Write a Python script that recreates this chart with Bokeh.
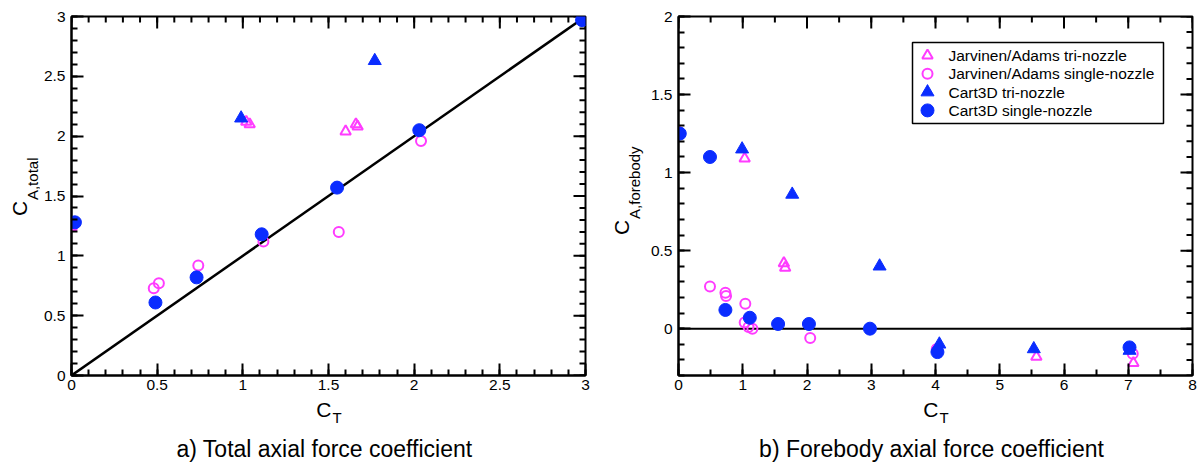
import numpy as np
from bokeh.plotting import figure
from bokeh.layouts import row, column
from bokeh.models import (FixedTicker, CustomJSTickFormatter, Range1d, Span, BoxAnnotation)
from bokeh.core.properties import value
from bokeh.embed import file_html
from bokeh.resources import INLINE

FONT = "Liberation Sans"
MAGENTA = "#ff3cff"
BLUE = "#0a2cff"

# ---- a) total axial force coefficient vs thrust coefficient ----
a_ja_tri_ct = [0.0, 1.02, 1.04, 1.60, 1.66, 1.67]
a_ja_tri_ca = [1.24, 2.12, 2.10, 2.04, 2.10, 2.08]
a_ja_single_ct = [0.0, 0.48, 0.51, 0.74, 1.12, 1.56, 2.04]
a_ja_single_ca = [1.26, 0.73, 0.77, 0.92, 1.12, 1.20, 1.96]
a_c3d_tri_ct = [0.99, 1.77]
a_c3d_tri_ca = [2.15, 2.63]
a_c3d_single_ct = [0.02, 0.49, 0.73, 1.11, 1.55, 2.03, 2.98]
a_c3d_single_ca = [1.28, 0.61, 0.82, 1.18, 1.57, 2.05, 2.97]
identity_line = [0.0, 3.0]

# ---- b) forebody axial force coefficient vs thrust coefficient ----
b_ja_tri_ct = [0.0, 1.03, 1.64, 1.66, 5.57, 7.08]
b_ja_tri_ca = [1.25, 1.09, 0.42, 0.39, -0.18, -0.22]
b_ja_single_ct = [0.0, 0.49, 0.73, 0.74, 1.04, 1.03, 1.09, 1.15, 2.05, 4.02, 7.07]
b_ja_single_ca = [1.26, 0.27, 0.23, 0.21, 0.16, 0.04, 0.01, 0.00, -0.06, -0.13, -0.16]
b_c3d_tri_ct = [0.99, 1.77, 3.13, 4.06, 5.53, 7.02]
b_c3d_tri_ca = [1.15, 0.86, 0.40, -0.10, -0.13, -0.14]
b_c3d_single_ct = [0.02, 0.49, 0.73, 1.11, 1.55, 2.03, 2.98, 4.03, 7.02]
b_c3d_single_ca = [1.25, 1.10, 0.12, 0.07, 0.03, 0.03, 0.00, -0.15, -0.12]

series_names = ["Jarvinen/Adams tri-nozzle", "Jarvinen/Adams single-nozzle",
                "Cart3D tri-nozzle", "Cart3D single-nozzle"]

# axis ticks
a_x_major = [0, 0.5, 1, 1.5, 2, 2.5, 3]
a_x_minor = list(np.round(np.arange(0, 3.001, 0.1), 2))
a_y_major = [0, 0.5, 1, 1.5, 2, 2.5, 3]
a_y_minor = list(np.round(np.arange(0, 3.001, 0.1), 2))
b_x_major = [0, 1, 2, 3, 4, 5, 6, 7, 8]
b_x_minor = list(np.round(np.arange(0, 8.001, 0.5), 2))
b_y_major = [0, 0.5, 1, 1.5, 2]
b_y_minor = list(np.round(np.arange(-0.3, 2.001, 0.1), 2))

PANEL_W = 600
FRAME_W, FRAME_H = 514, 359
TOP, BOTTOM = 16, 24
MAIN_H = TOP + FRAME_H + BOTTOM          # 399
FOOT_H = 464 - MAIN_H                    # 65
MAJOR_LEN, MINOR_LEN = 12, 6

STYLES = {
    "ja_tri": dict(marker="triangle", size=10.5, fill_color=None, line_color=MAGENTA, line_width=2),
    "ja_single": dict(marker="circle", size=10, fill_color=None, line_color=MAGENTA, line_width=2),
    "c3d_tri": dict(marker="triangle", size=13, fill_color=BLUE, line_color=BLUE, line_width=1),
    "c3d_single": dict(marker="circle", size=13, fill_color=BLUE, line_color=BLUE, line_width=1),
}
ORDER = ["ja_tri", "ja_single", "c3d_tri", "c3d_single"]

fmt = CustomJSTickFormatter(code="return String(Math.round(tick * 100) / 100);")


def style_axis(ax, major, minor, standoff):
    ax.ticker = FixedTicker(ticks=major, minor_ticks=minor)
    ax.formatter = fmt
    ax.axis_label = None
    ax.axis_line_color = "black"
    ax.axis_line_width = 2
    ax.major_tick_in = MAJOR_LEN
    ax.major_tick_out = 0
    ax.minor_tick_in = MINOR_LEN
    ax.minor_tick_out = 0
    ax.major_tick_line_color = "black"
    ax.minor_tick_line_color = "black"
    ax.major_tick_line_width = 2
    ax.minor_tick_line_width = 2
    ax.major_label_text_font = FONT
    ax.major_label_text_color = "black"
    ax.major_label_text_font_size = "15.5px"
    ax.major_label_standoff = standoff


def mirror_ticks(p, xt, yt):
    """Inward tick marks along the top and right edges of the frame."""
    x0, x1 = p.x_range.start, p.x_range.end
    y0, y1 = p.y_range.start, p.y_range.end
    for ticks, length in ((xt[0], MAJOR_LEN), (xt[1], MINOR_LEN)):
        dl = length / FRAME_H * (y1 - y0)
        n = len(ticks)
        p.segment(x0=ticks, y0=[y1] * n, x1=ticks, y1=[y1 - dl] * n,
                  line_color="black", line_width=2)
    for ticks, length in ((yt[0], MAJOR_LEN), (yt[1], MINOR_LEN)):
        dl = length / FRAME_W * (x1 - x0)
        n = len(ticks)
        p.segment(x0=[x1] * n, y0=ticks, x1=[x1 - dl] * n, y1=ticks,
                  line_color="black", line_width=2)


def make_panel(xr, yr, border_left, border_right, xt, yt):
    p = figure(width=border_left + FRAME_W + border_right, height=MAIN_H,
               x_range=Range1d(*xr), y_range=Range1d(*yr),
               output_backend="svg", toolbar_location=None,
               min_border_left=border_left, min_border_right=border_right,
               min_border_top=TOP, min_border_bottom=BOTTOM,
               background_fill_color="white", border_fill_color="white",
               outline_line_color="black", outline_line_width=2)
    p.grid.visible = False
    style_axis(p.xaxis[0], xt[0], xt[1], 4)
    style_axis(p.yaxis[0], yt[0], yt[1], 6)
    mirror_ticks(p, xt, yt)
    return p


def text_canvas(width, height):
    """A bare figure whose data space is its own pixel grid."""
    c = figure(width=width, height=height, x_range=Range1d(0, width),
               y_range=Range1d(0, height), x_axis_type=None, y_axis_type=None,
               output_backend="svg", toolbar_location=None, min_border=0,
               outline_line_color=None, background_fill_color="white",
               border_fill_color="white")
    c.grid.visible = False
    return c


def put(c, x, y_from_top, text, size, align="left", angle=0.0):
    y = c.height - y_from_top
    c.text([x], [y], text=[text], text_font=value(FONT), text_font_size=size,
           text_align=align, text_baseline="middle", angle=angle, text_color="black")


def y_label_strip(width, c_x, sub_x, anchor_y, sub_text):
    # "C" ends at the anchor, the subscript starts there (text reads upward)
    c = text_canvas(width, MAIN_H)
    put(c, c_x, anchor_y, "C", "21px", align="right", angle=np.pi / 2)
    put(c, sub_x, anchor_y - 1, sub_text, "15px", align="left", angle=np.pi / 2)
    return c


def footer(frame_center, caption):
    c = text_canvas(PANEL_W, FOOT_H)
    anchor = frame_center + 3
    put(c, anchor, 10, "C", "21px", align="right")
    put(c, anchor + 1, 17.5, "T", "15px", align="left")
    put(c, frame_center - 4, 49, caption, "23px", align="center")
    return c


def add_series(p, data):
    for key, (xs, ys) in zip(ORDER, data):
        p.scatter(xs, ys, **STYLES[key])


def to_data(p, dx, dy):
    """Pixel offsets from the frame's top-left corner -> data coordinates."""
    x0, x1 = p.x_range.start, p.x_range.end
    y0, y1 = p.y_range.start, p.y_range.end
    return x0 + dx / FRAME_W * (x1 - x0), y1 - dy / FRAME_H * (y1 - y0)


# ---------------- panel a ----------------
A_STRIP = 40
pa = make_panel((0, 3), (0, 3), 71 - A_STRIP, 15, (a_x_major, a_x_minor), (a_y_major, a_y_minor))
pa.line(identity_line, identity_line, line_color="black", line_width=2.5)
add_series(pa, [(a_ja_tri_ct, a_ja_tri_ca), (a_ja_single_ct, a_ja_single_ca),
                (a_c3d_tri_ct, a_c3d_tri_ca), (a_c3d_single_ct, a_c3d_single_ca)])
ya = y_label_strip(A_STRIP, 18.5, 31.5, 205, "A,total")
panel_a = column(row(ya, pa), footer(71 + FRAME_W / 2, "a) Total axial force coefficient"))

# ---------------- panel b ----------------
B_STRIP = 47
pb = make_panel((0, 8), (-0.3, 2), 78 - B_STRIP, 8, (b_x_major, b_x_minor), (b_y_major, b_y_minor))
pb.add_layout(Span(location=0, dimension="width", line_color="black", line_width=2,
                   level="underlay"))
add_series(pb, [(b_ja_tri_ct, b_ja_tri_ca), (b_ja_single_ct, b_ja_single_ca),
                (b_c3d_tri_ct, b_c3d_tri_ca), (b_c3d_single_ct, b_c3d_single_ca)])
yb = y_label_strip(B_STRIP, 20.5, 34, 226, "A,forebody")

# legend box drawn inside the frame of panel b
lx0, ly0 = to_data(pb, 234, 26)
lx1, ly1 = to_data(pb, 485, 107)
pb.add_layout(BoxAnnotation(left=lx0, right=lx1, top=ly0, bottom=ly1,
                            fill_color="white", fill_alpha=1.0,
                            line_color="black", line_alpha=1.0, line_width=1.5,
                            level="underlay"))
row_offsets = [39 + 18.3 * i for i in range(len(series_names))]
for key, dy in zip(ORDER, row_offsets):
    mx, my = to_data(pb, 249, dy)
    pb.scatter([mx], [my], **STYLES[key])
text_x = [to_data(pb, 270, dy)[0] for dy in row_offsets]
text_y = [to_data(pb, 270, dy)[1] for dy in row_offsets]
pb.text(text_x, text_y, text=series_names, text_font=value(FONT), text_font_size="15.5px",
        text_align="left", text_baseline="middle", text_color="black")
panel_b = column(row(yb, pb), footer(78 + FRAME_W / 2, "b) Forebody axial force coefficient"))

layout = row(panel_a, panel_b)
open("out.html", "w").write(file_html(layout, INLINE))
